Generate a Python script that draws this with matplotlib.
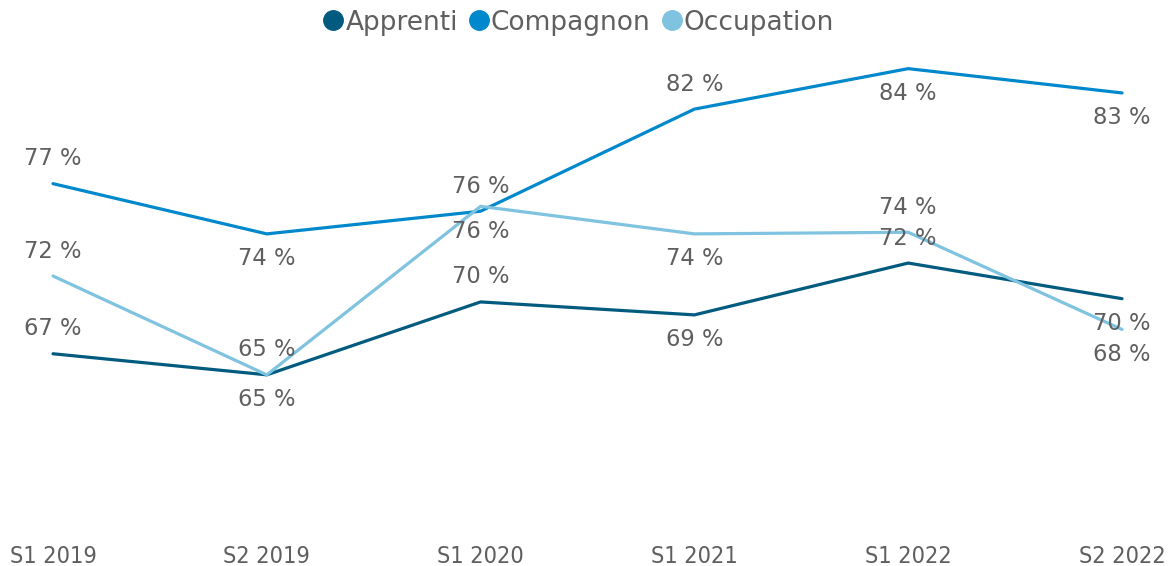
import matplotlib
matplotlib.use("Agg")
import matplotlib.pyplot as plt
from matplotlib.lines import Line2D

periods = ["S1 2019", "S2 2019", "S1 2020", "S1 2021", "S1 2022", "S2 2022"]
apprenti = [66.7, 65.4, 69.9, 69.1, 72.3, 70.1]
compagnon = [77.2, 74.1, 75.5, 81.8, 84.3, 82.8]
occupation = [71.5, 65.4, 75.8, 74.1, 74.2, 68.2]

# label side for each point: +1 above, -1 below
apprenti_side = [1, -1, 1, -1, 1, -1]
compagnon_side = [1, -1, 1, 1, -1, -1]
occupation_side = [1, 1, -1, -1, 1, -1]

series = [
    ("Apprenti", apprenti, apprenti_side, "#005b7f"),
    ("Compagnon", compagnon, compagnon_side, "#0088cc"),
    ("Occupation", occupation, occupation_side, "#7fc3e0"),
]
text_color = "#5f5f5f"

fig = plt.figure(figsize=(11.72, 5.66), dpi=100)
ax = fig.add_axes([0, 0.0687, 1, 0.8587])
x = list(range(len(periods)))

for name, vals, sides, color in series:
    ax.plot(x, vals, color=color, lw=2.3, solid_capstyle="round", label=name)
for name, vals, sides, color in series:
    for xi, v, s in zip(x, vals, sides):
        ax.annotate(f"{v:.0f} %", (xi, v), xytext=(0, 25 * s),
                    textcoords="offset pixels", ha="center", va="center",
                    fontsize=16.3, color=text_color)

ax.set_xlim(-53 / 213.8, 5 + 50 / 213.8)
ax.set_ylim(56, 86)
ax.set_xticks(x)
ax.set_xticklabels(periods, fontsize=16.8, color=text_color, fontstretch="condensed")
ax.tick_params(axis="x", length=0, pad=13)
ax.set_yticks([])
for sp in ax.spines.values():
    sp.set_visible(False)

handles = [Line2D([], [], ls="none", marker="o", markersize=14, color=c)
           for _, _, _, c in series]
leg = fig.legend(handles, [s[0] for s in series], loc="upper center",
                 bbox_to_anchor=(0.493, 1.025), ncol=3, frameon=False,
                 fontsize=19, handletextpad=0.0, columnspacing=0.35,
                 handlelength=0.9)
for t in leg.get_texts():
    t.set_color(text_color)

fig.savefig("out.png", dpi=100)
